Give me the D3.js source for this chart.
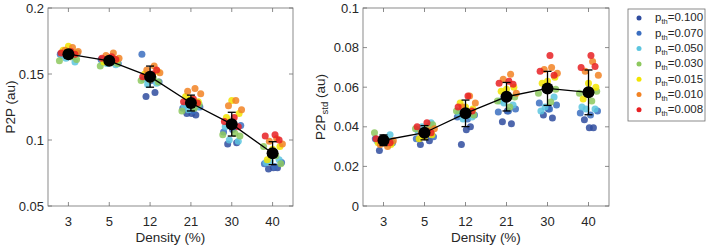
<!DOCTYPE html>
<html>
<head>
<meta charset="utf-8">
<script src="https://cdn.jsdelivr.net/npm/d3@7"></script>
<style>
  body { margin: 0; background: #fff; }
  svg { font-family: "Liberation Sans", Arial, sans-serif; }
</style>
</head>
<body>
<svg id="chart" width="707" height="246"></svg>
<script>
// categories + thresholds
const densities = ["3", "5", "12", "21", "30", "40"];
const thresholds = ["0.100", "0.070", "0.050", "0.030", "0.015", "0.010", "0.008"];
const colors = ["#2f4c9f", "#3b6ec0", "#5cc5df", "#8dc85e", "#f2e400", "#f28223", "#e82023"];

// P2P, per threshold: 3 values for each density
const p2p_100 = [[0.165, 0.164, 0.166], [0.160, 0.161, 0.159], [0.133, 0.136, 0.145], [0.120, 0.119, 0.120], [0.097, 0.098, 0.108], [0.078, 0.079, 0.079]];
const p2p_070 = [[0.165, 0.163, 0.166], [0.161, 0.160, 0.158], [0.165, 0.147, 0.144], [0.124, 0.122, 0.125], [0.106, 0.109, 0.111], [0.082, 0.080, 0.083]];
const p2p_050 = [[0.159, 0.162, 0.164], [0.157, 0.158, 0.159], [0.143, 0.142, 0.146], [0.125, 0.123, 0.126], [0.099, 0.100, 0.110], [0.085, 0.084, 0.083]];
const p2p_030 = [[0.160, 0.163, 0.161], [0.156, 0.159, 0.158], [0.145, 0.147, 0.144], [0.122, 0.124, 0.127], [0.104, 0.105, 0.103], [0.095, 0.088, 0.082]];
const p2p_015 = [[0.171, 0.168, 0.166], [0.160, 0.159, 0.161], [0.146, 0.150, 0.152], [0.131, 0.133, 0.129], [0.130, 0.117, 0.120], [0.093, 0.085, 0.095]];
const p2p_010 = [[0.170, 0.168, 0.167], [0.166, 0.164, 0.162], [0.156, 0.153, 0.151], [0.139, 0.137, 0.135], [0.130, 0.126, 0.123], [0.101, 0.099, 0.097]];
const p2p_008 = [[0.167, 0.166, 0.165], [0.163, 0.162, 0.161], [0.150, 0.148, 0.153], [0.131, 0.129, 0.128], [0.117, 0.114, 0.110], [0.104, 0.103, 0.100]];
const p2pMean = [0.165, 0.160, 0.148, 0.128, 0.112, 0.090];
const p2pErr = [0.003, 0.002, 0.008, 0.006, 0.009, 0.0087];

// P2P std
const std_100 = [[0.028, 0.032, 0.033], [0.031, 0.033, 0.035], [0.031, 0.040, 0.0385], [0.0425, 0.0415, 0.048], [0.046, 0.0445, 0.049], [0.0435, 0.0395, 0.0395]];
const std_070 = [[0.034, 0.033, 0.032], [0.034, 0.036, 0.035], [0.045, 0.044, 0.046], [0.0475, 0.048, 0.049], [0.052, 0.049, 0.051], [0.047, 0.046, 0.048]];
const std_050 = [[0.036, 0.034, 0.033], [0.042, 0.040, 0.038], [0.045, 0.044, 0.047], [0.051, 0.052, 0.053], [0.055, 0.050, 0.048], [0.049, 0.049, 0.050]];
const std_030 = [[0.037, 0.033, 0.032], [0.039, 0.040, 0.041], [0.048, 0.047, 0.046], [0.053, 0.050, 0.055], [0.057, 0.0525, 0.059], [0.057, 0.053, 0.058]];
const std_015 = [[0.034, 0.032, 0.031], [0.035, 0.034, 0.036], [0.050, 0.052, 0.049], [0.059, 0.058, 0.060], [0.063, 0.062, 0.065], [0.062, 0.054, 0.060]];
const std_010 = [[0.030, 0.031, 0.033], [0.038, 0.037, 0.039], [0.0555, 0.050, 0.052], [0.0665, 0.064, 0.057], [0.070, 0.069, 0.067], [0.073, 0.068, 0.066]];
const std_008 = [[0.033, 0.034, 0.032], [0.042, 0.040, 0.037], [0.0555, 0.050, 0.048], [0.063, 0.062, 0.0615], [0.076, 0.068, 0.066], [0.076, 0.070, 0.0705]];
const stdMean = [0.0332, 0.037, 0.0468, 0.0552, 0.0594, 0.0574];
const stdErr = [0.0027, 0.0036, 0.0067, 0.0072, 0.0086, 0.0113];

// horizontal scatter (fraction of category step), one per dot in a cluster
const jitter = [-0.10, 0.12, 0.02, -0.20, 0.05, 0.22, 0.16, -0.06, -0.16, -0.22, 0.08, 0.20, 0.00, -0.13, 0.18, 0.10, -0.08, 0.24, 0.06, -0.18, 0.16];

const svg = d3.select("#chart");
const textColor = "#262626";
const axisColor = "#6e6e6e";

function drawPanel(cfg) {
    const { left, right, top, bottom } = cfg;
    const x = d3.scalePoint().domain(densities).range([left, right]).padding(0.5);
    const step = x.step();
    const y = d3.scaleLinear().domain(cfg.yDomain).range([bottom, top]);
    const g = svg.append("g");

    // box
    g.append("rect")
        .attr("x", left).attr("y", top)
        .attr("width", right - left).attr("height", bottom - top)
        .attr("fill", "none").attr("stroke", axisColor).attr("stroke-width", 0.8);

    // ticks, inward, all four sides
    const tl = 4;
    cfg.yTicks.forEach(v => {
        g.append("line").attr("x1", left).attr("x2", left + tl).attr("y1", y(v)).attr("y2", y(v)).attr("stroke", axisColor).attr("stroke-width", 0.8);
        g.append("line").attr("x1", right).attr("x2", right - tl).attr("y1", y(v)).attr("y2", y(v)).attr("stroke", axisColor).attr("stroke-width", 0.8);
        g.append("text").attr("x", left - 4).attr("y", y(v)).attr("dy", "0.35em")
            .attr("text-anchor", "end").attr("font-size", 13).attr("fill", textColor)
            .text(cfg.yFormat(v));
    });
    densities.forEach(d => {
        g.append("line").attr("x1", x(d)).attr("x2", x(d)).attr("y1", bottom).attr("y2", bottom - tl).attr("stroke", axisColor).attr("stroke-width", 0.8);
        g.append("line").attr("x1", x(d)).attr("x2", x(d)).attr("y1", top).attr("y2", top + tl).attr("stroke", axisColor).attr("stroke-width", 0.8);
        g.append("text").attr("x", x(d)).attr("y", bottom + 20)
            .attr("text-anchor", "middle").attr("font-size", 13).attr("fill", textColor)
            .text(d);
    });

    // axis labels
    g.append("text").attr("x", (left + right) / 2).attr("y", bottom + 36)
        .attr("text-anchor", "middle").attr("font-size", 13.5).attr("fill", textColor)
        .text("Density (%)");
    const yl = g.append("text")
        .attr("transform", `translate(${cfg.ylabelX},${(top + bottom) / 2}) rotate(-90)`)
        .attr("text-anchor", "middle").attr("font-size", 13.5).attr("fill", textColor);
    yl.append("tspan").text("P2P");
    if (cfg.ylabelSub) {
        yl.append("tspan").attr("font-size", 9.5).attr("dy", 3).text(cfg.ylabelSub);
        yl.append("tspan").attr("dy", -3).text(" (au)");
    } else {
        yl.append("tspan").text(" (au)");
    }

    // scatter dots
    const dots = [];
    cfg.series.forEach((s, ti) => {
        s.forEach((vals, ci) => {
            vals.forEach((v, k) => dots.push({ ci, ti, v, j: jitter[ti * 3 + k] }));
        });
    });
    g.selectAll(".dot").data(dots).join("circle")
        .attr("class", "dot")
        .attr("cx", d => x(densities[d.ci]) + d.j * step)
        .attr("cy", d => y(d.v))
        .attr("r", 3.5)
        .attr("fill", d => colors[d.ti])
        .attr("fill-opacity", 0.85);

    // mean line
    const line = d3.line().x((d, i) => x(densities[i])).y(d => y(d));
    g.append("path").datum(cfg.mean).attr("d", line)
        .attr("fill", "none").attr("stroke", "#000").attr("stroke-width", 1.3);

    // error bars
    const cap = 4;
    cfg.mean.forEach((m, i) => {
        const cx = x(densities[i]);
        const e = cfg.err[i];
        g.append("line").attr("x1", cx).attr("x2", cx).attr("y1", y(m - e)).attr("y2", y(m + e)).attr("stroke", "#000").attr("stroke-width", 1.3);
        [m - e, m + e].forEach(v => {
            g.append("line").attr("x1", cx - cap).attr("x2", cx + cap).attr("y1", y(v)).attr("y2", y(v)).attr("stroke", "#000").attr("stroke-width", 1.3);
        });
    });
    g.selectAll(".mean").data(cfg.mean).join("circle")
        .attr("class", "mean")
        .attr("cx", (d, i) => x(densities[i]))
        .attr("cy", d => y(d))
        .attr("r", 6)
        .attr("fill", "#000");
}

drawPanel({
    left: 48, right: 293, top: 8, bottom: 206,
    yDomain: [0.05, 0.2], yTicks: [0.05, 0.1, 0.15, 0.2],
    yFormat: d3.format("~g"),
    ylabelX: 15,
    series: [p2p_100, p2p_070, p2p_050, p2p_030, p2p_015, p2p_010, p2p_008],
    mean: p2pMean, err: p2pErr
});

drawPanel({
    left: 363, right: 609, top: 8, bottom: 206,
    yDomain: [0, 0.1], yTicks: [0, 0.02, 0.04, 0.06, 0.08, 0.1],
    yFormat: d3.format("~g"),
    ylabelX: 325, ylabelSub: "std",
    series: [std_100, std_070, std_050, std_030, std_015, std_010, std_008],
    mean: stdMean, err: stdErr
});

// legend
const lg = svg.append("g");
lg.append("rect").attr("x", 628).attr("y", 9).attr("width", 77).attr("height", 112)
    .attr("fill", "#fff").attr("stroke", axisColor).attr("stroke-width", 0.8);
thresholds.forEach((t, i) => {
    const ly = 18 + i * 15.3;
    lg.append("circle").attr("cx", 639).attr("cy", ly).attr("r", 2.5).attr("fill", colors[i]);
    const tx = lg.append("text").attr("x", 655).attr("y", ly).attr("dy", "0.3em")
        .attr("font-size", 11.5).attr("fill", textColor);
    tx.append("tspan").text("p");
    tx.append("tspan").attr("font-size", 7.5).attr("dy", 3).text("th");
    tx.append("tspan").attr("dy", -3).text("=" + t);
});
</script>
</body>
</html>
